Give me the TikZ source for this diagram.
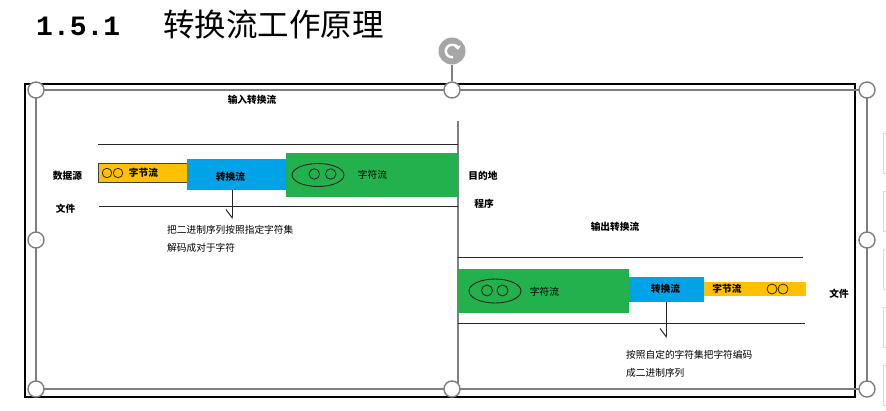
\documentclass[tikz,border=0pt]{standalone}
\usepackage{fontspec}
\setmainfont{Noto Sans CJK SC}
\newfontfamily\monof{Liberation Mono}
\usetikzlibrary{arrows.meta,shapes.geometric}
\definecolor{ybyte}{HTML}{FFC000}
\definecolor{bconv}{HTML}{00A2E8}
\definecolor{gchar}{HTML}{22B14C}
\definecolor{hgray}{HTML}{7F7F7F}
\definecolor{rgray}{HTML}{A6A6A6}
\definecolor{sgray}{HTML}{DADADA}
\begin{document}
\begin{tikzpicture}[x=1pt,y=-1pt,
  lbl/.style={font=\fontsize{9.7}{11}\selectfont\bfseries, inner sep=0pt},
  txt/.style={font=\fontsize{9.7}{11}\selectfont, inner sep=0pt, anchor=west},
  plain/.style={font=\fontsize{9.7}{11}\selectfont, inner sep=0pt},
  handle/.style={circle, draw=hgray, line width=1.4pt, fill=white, minimum size=16pt, inner sep=0pt},
  blk/.style={inner sep=0pt, draw=none},
  rail/.style={line width=1pt, black!85},
  dot/.style={circle, draw=black!85, line width=0.8pt, inner sep=0pt},
  pointer/.style={line width=1pt, black!85, -{Straight Barb[right,length=8pt,width=12pt]}}
]
\useasboundingbox (0,0) rectangle (886,410);
\fill[white] (0,0) rectangle (886,410);

% title
\node[anchor=west, inner sep=0pt, font=\monof\bfseries\fontsize{28}{30}\selectfont] (tnum) at (36,26) {1.5.1};
\node[anchor=west, inner sep=0pt, font=\fontsize{31.5}{34}\selectfont] (ttxt) at (163,25) {转换流工作原理};

% side panel fragments
\foreach \a/\b in {133/173,191/231,249/289,307/347,365/405}
  \draw[sgray, line width=1pt] (893,\a) -- (883.5,\a) -- (883.5,\b) -- (893,\b);

% frame
\draw[black, line width=1.3pt] (25,84) rectangle (855,397);
\draw[hgray, line width=1.3pt] (36,90) rectangle (867,389);

% vertical divider
\coordinate (vtop) at (458,121);
\coordinate (vbot) at (458,389);
\draw[hgray, line width=1.5pt] (vtop) -- (vbot);

% ---------- input side ----------
\node[lbl] (inT) at (252,100) {输入转换流};
\coordinate (r1a) at (98,144); \coordinate (r1b) at (458,144);
\coordinate (r2a) at (99,206); \coordinate (r2b) at (458,206);
\draw[rail] (r1a) -- (r1b);
\draw[rail] (r2a) -- (r2b);

\node[blk, fill=ybyte, draw=black!75, line width=0.9pt, minimum width=89pt, minimum height=19pt] (yT) at (142.5,172.5) {};
\node[dot, minimum size=9.5pt] (yTc1) at (107,173) {};
\node[dot, minimum size=9.5pt] (yTc2) at (118,173) {};
\node[lbl] (yTt) at (143.5,173) {字节流};

\node[blk, fill=bconv, minimum width=99pt, minimum height=31pt] (bT) at (236.5,174.5) {};
\node[lbl] (bTt) at (230.5,177) {转换流};

\node[blk, fill=gchar, minimum width=172pt, minimum height=44pt] (gT) at (372,175) {};
\node[ellipse, draw=black!85, line width=0.9pt, minimum width=52pt, minimum height=23pt, inner sep=0pt] (eT) at (318,175) {};
\node[dot, minimum size=10.5pt] (eTc1) at (314.3,174) {};
\node[dot, minimum size=10.5pt] (eTc2) at (330.7,174) {};
\node[plain] (gTt) at (372.5,175) {字符流};

\node[lbl] (srcA) at (67.5,176) {数据源};
\node[lbl] (srcB) at (65.5,209) {文件};
\node[lbl] (dstA) at (483,176) {目的地};
\node[lbl] (dstB) at (484,204) {程序};

\coordinate (tipT) at (232,219);
\draw[pointer] (bT.south -| tipT) -- (tipT);
\node[txt] (dT1) at (167,230) {把二进制序列按照指定字符集};
\node[txt] (dT2) at (167,248) {解码成对于字符};

% ---------- output side ----------
\node[lbl] (outT) at (615,227) {输出转换流};
\coordinate (r3a) at (458,257); \coordinate (r3b) at (803,257);
\coordinate (r4a) at (458,323); \coordinate (r4b) at (805,323);
\draw[rail] (r3a) -- (r3b);
\draw[rail] (r4a) -- (r4b);

\node[blk, fill=gchar, minimum width=171pt, minimum height=44pt] (gB) at (543.5,291) {};
\node[ellipse, draw=black!85, line width=0.9pt, minimum width=52pt, minimum height=24pt, inner sep=0pt] (eB) at (495,291) {};
\node[dot, minimum size=11pt] (eBc1) at (487,290.5) {};
\node[dot, minimum size=11pt] (eBc2) at (502.5,290.5) {};
\node[plain] (gBt) at (544.5,291.5) {字符流};

\node[blk, fill=bconv, minimum width=75pt, minimum height=25pt] (bB) at (666.5,289.5) {};
\node[lbl] (bBt) at (665.5,289) {转换流};

\node[blk, fill=ybyte, minimum width=102pt, minimum height=14pt] (yB) at (755,289) {};
\node[lbl] (yBt) at (727,289) {字节流};
\node[dot, minimum size=10pt] (yBc1) at (772,289) {};
\node[dot, minimum size=10pt] (yBc2) at (783,289) {};

\node[lbl] (dstC) at (839,294) {文件};

\coordinate (tipB) at (666,338);
\draw[pointer] (bB.south -| tipB) -- (tipB);
\node[txt] (dB1) at (626,355) {按照自定的字符集把字符编码};
\node[txt] (dB2) at (626,373) {成二进制序列};

% ---------- selection handles ----------
\node[circle, fill=rgray, minimum size=27pt, inner sep=0pt] (rot) at (452,51) {};
\draw[white, line width=2.4pt, -{Triangle[length=4pt,width=6.5pt]}]
  ([shift={(80:6.2)}]rot.center) arc[start angle=80, end angle=350, radius=6.2];
\node[handle] (hTM) at (452,90) {};
\draw[hgray, line width=1.2pt] (rot.south) -- (hTM.north);
\node[handle] (hTL) at (36,90) {};
\node[handle] (hTR) at (867,90) {};
\node[handle] (hML) at (36,240) {};
\node[handle] (hMR) at (867,240) {};
\node[handle] (hBL) at (36,389) {};
\node[handle] (hBM) at (452,389) {};
\node[handle] (hBR) at (867,389) {};
\end{tikzpicture}
\end{document}
